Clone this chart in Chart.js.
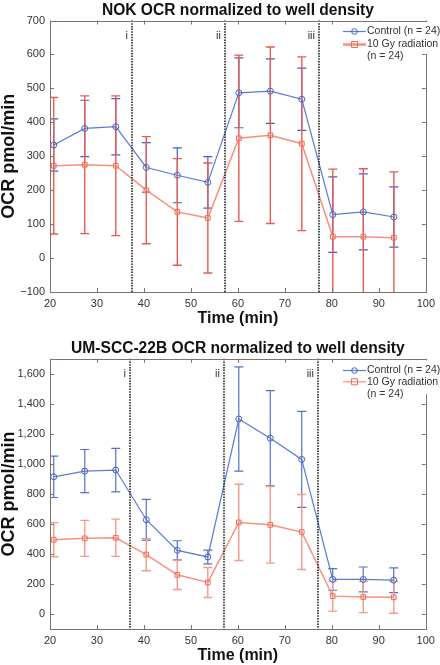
<!DOCTYPE html>
<html>
<head>
    <title>OCR normalized to well density</title>
    <script src="https://cdn.jsdelivr.net/npm/chart.js"></script>
    <style>
        body { margin: 0; background: #fff; }
        canvas { position: absolute; left: 0; }
        #nokChart { top: 0; }
        #umChart { top: 328px; }
    </style>
</head>
<body>
    <canvas id="nokChart" width="440" height="328"></canvas>
    <canvas id="umChart" width="440" height="337"></canvas>
    <script>
        // measurement times (min), same for both plates
        const times = [20.8, 27.4, 34.0, 40.5, 47.1, 53.6, 60.2, 66.9, 73.6, 80.2, 86.7, 93.2];

        // NOK
        const nokControl = [333, 382, 387, 267, 244, 223, 487, 492, 468, 128, 136, 121];
        const nokControlSd = [77, 83, 83, 73, 81, 76, 103, 95, 92, 111, 112, 89];
        const nokRadiation = [272, 275, 272, 200, 136, 118, 353, 362, 337, 63, 63, 60];
        const nokRadiationSd = [201, 203, 206, 158, 157, 162, 245, 260, 256, 199, 200, 194];
        const nokYTicks = [-100, 0, 100, 200, 300, 400, 500, 600, 700];
        const nokInjections = [37.4, 57.3, 77.2];

        // UM-SCC-22B
        const umControl = [914, 952, 959, 628, 424, 380, 1299, 1171, 1030, 230, 230, 225];
        const umControlSd = [138, 144, 145, 136, 64, 46, 347, 317, 320, 72, 83, 82];
        const umRadiation = [495, 504, 508, 396, 261, 210, 610, 594, 546, 119, 113, 111];
        const umRadiationSd = [114, 120, 124, 108, 98, 100, 254, 255, 250, 100, 104, 106];
        const umYTicks = [0, 200, 400, 600, 800, 1000, 1200, 1400, 1600];
        const umInjections = [37.0, 57.0, 77.0];

        const xTicks = [20, 30, 40, 50, 60, 70, 80, 90, 100];
        const injectionLabels = ['i', 'ii', 'iii'];
        const legendLabels = [['Control (n = 24)'], ['10 Gy radiation', '(n = 24)']];

        Chart.defaults.font.family = '"Liberation Sans", Arial, sans-serif';
        Chart.defaults.color = '#333';

        const FRAME = '#857068';

        function points(vals) {
            return times.map((t, i) => ({x: t, y: vals[i]}));
        }

        // error bars, injection lines, box frame with inward ticks, legend
        const seahorsePlugin = {
            id: 'seahorse',
            beforeDatasetsDraw(chart, args, o) {
                const ctx = chart.ctx, a = chart.chartArea;
                const xs = chart.scales.x, ys = chart.scales.y;
                ctx.save();
                ctx.beginPath();
                ctx.rect(a.left, a.top, a.right - a.left, a.bottom - a.top);
                ctx.clip();
                o.errors.forEach((sd, d) => {
                    const vals = chart.data.datasets[d].data;
                    ctx.strokeStyle = o.errColors[d];
                    ctx.lineWidth = o.errWidth[d];
                    vals.forEach((p, i) => {
                        const x = xs.getPixelForValue(p.x);
                        const y1 = ys.getPixelForValue(p.y + sd[i]);
                        const y2 = ys.getPixelForValue(p.y - sd[i]);
                        ctx.beginPath();
                        ctx.moveTo(x, y1); ctx.lineTo(x, y2);
                        ctx.moveTo(x - o.cap, y1); ctx.lineTo(x + o.cap, y1);
                        ctx.moveTo(x - o.cap, y2); ctx.lineTo(x + o.cap, y2);
                        ctx.stroke();
                    });
                });
                ctx.restore();
            },
            afterDatasetsDraw(chart, args, o) {
                const ctx = chart.ctx, a = chart.chartArea;
                const xs = chart.scales.x, ys = chart.scales.y;
                ctx.save();
                // injection lines
                ctx.strokeStyle = '#222';
                ctx.lineWidth = 1.6;
                ctx.setLineDash([1.5, 1.2]);
                ctx.font = '11px "Liberation Sans", Arial, sans-serif';
                ctx.fillStyle = '#333';
                ctx.textAlign = 'right';
                ctx.textBaseline = 'middle';
                o.injections.forEach((v, i) => {
                    const x = Math.round(xs.getPixelForValue(v));
                    ctx.beginPath();
                    ctx.moveTo(x, a.top); ctx.lineTo(x, a.bottom);
                    ctx.stroke();
                    ctx.fillText(injectionLabels[i], x - 4, a.top + 15);
                });
                ctx.setLineDash([]);
                // frame
                ctx.strokeStyle = FRAME;
                ctx.lineWidth = 1;
                ctx.strokeRect(Math.round(a.left) + 0.5, Math.round(a.top) + 0.5,
                    Math.round(a.right - a.left), Math.round(a.bottom - a.top));
                ctx.beginPath();
                xs.ticks.forEach(t => {
                    const x = Math.round(xs.getPixelForValue(t.value)) + 0.5;
                    ctx.moveTo(x, a.bottom); ctx.lineTo(x, a.bottom - 4);
                    ctx.moveTo(x, a.top); ctx.lineTo(x, a.top + 4);
                });
                ys.ticks.forEach(t => {
                    const y = Math.round(ys.getPixelForValue(t.value)) + 0.5;
                    ctx.moveTo(a.left, y); ctx.lineTo(a.left + 4, y);
                    ctx.moveTo(a.right, y); ctx.lineTo(a.right - 4, y);
                });
                ctx.stroke();
                // legend
                const lx = o.legendX;
                ctx.fillStyle = '#fff';
                ctx.fillRect(lx - 4, a.top + 1.5, chart.width - lx + 4, o.legendBox);
                ctx.font = '10.5px "Liberation Sans", Arial, sans-serif';
                ctx.textAlign = 'left';
                legendLabels.forEach((lines, d) => {
                    const ds = chart.data.datasets[d];
                    const y = a.top + o.legendRows[d];
                    ctx.strokeStyle = ds.borderColor;
                    ctx.lineWidth = o.legendLine[d];
                    ctx.beginPath();
                    ctx.moveTo(lx, y); ctx.lineTo(lx + 23, y);
                    ctx.stroke();
                    ctx.strokeStyle = ds.pointBorderColor;
                    ctx.lineWidth = 1;
                    ctx.beginPath();
                    if (ds.pointStyle === 'rect') {
                        ctx.rect(lx + 8.5, y - 3, 6, 6);
                    } else {
                        ctx.arc(lx + 11.5, y, 2.8, 0, Math.PI * 2);
                    }
                    ctx.stroke();
                    ctx.fillStyle = '#333';
                    lines.forEach((txt, k) => ctx.fillText(txt, lx + 24, y + k * 12));
                });
                ctx.restore();
            }
        };

        function makeChart(id, cfg) {
            return new Chart(document.getElementById(id), {
                type: 'line',
                data: {
                    datasets: [{
                        label: 'Control (n = 24)',
                        data: points(cfg.control),
                        borderColor: '#5a7bd2',
                        borderWidth: 1.2,
                        pointStyle: 'circle',
                        pointRadius: 3,
                        pointBorderColor: '#4563c2',
                        pointBorderWidth: 1,
                        pointBackgroundColor: 'rgba(0,0,0,0)'
                    }, {
                        label: '10 Gy radiation (n = 24)',
                        data: points(cfg.radiation),
                        borderColor: '#f7907e',
                        borderWidth: 1.5,
                        pointStyle: 'rect',
                        pointRadius: 3.3,
                        pointBorderColor: '#f06a58',
                        pointBorderWidth: 1,
                        pointBackgroundColor: 'rgba(0,0,0,0)'
                    }]
                },
                options: {
                    responsive: false,
                    animation: false,
                    devicePixelRatio: 1,
                    layout: {padding: {left: 0, right: cfg.padRight, top: 0, bottom: 0}},
                    scales: {
                        x: {
                            type: 'linear',
                            min: 20, max: 100,
                            afterBuildTicks: s => { s.ticks = xTicks.map(v => ({value: v})); },
                            afterFit: s => { s.height = 36; },
                            grid: {display: false, drawTicks: false},
                            border: {display: false},
                            ticks: {font: {size: 11}, padding: 5, color: '#333'},
                            title: {display: true, text: 'Time (min)', color: '#111',
                                font: {size: 16, weight: 'bold'}, padding: 0}
                        },
                        y: {
                            min: cfg.yMin, max: cfg.yMax,
                            afterBuildTicks: s => { s.ticks = cfg.yTicks.map(v => ({value: v})); },
                            afterFit: s => { s.width = 50; },
                            grid: {display: false, drawTicks: false},
                            border: {display: false},
                            ticks: {
                                font: {size: 11}, padding: 5, color: '#333',
                                callback: v => (v < 0 ? '\u2212' : '') + Math.abs(v).toLocaleString('en-US')
                            },
                            title: {display: true, text: 'OCR pmol/min', color: '#111',
                                font: {size: 18, weight: 'bold', lineHeight: 1}, padding: 0}
                        }
                    },
                    plugins: {
                        legend: {display: false},
                        tooltip: {enabled: false},
                        title: {
                            display: true, text: cfg.title, fullSize: false, color: '#111',
                            font: {size: 15.6, weight: 'bold'}, padding: cfg.titlePad
                        },
                        seahorse: {
                            errors: [cfg.controlSd, cfg.radiationSd],
                            errColors: cfg.errColors,
                            errWidth: [1.2, 1.4],
                            cap: 4.5,
                            injections: cfg.injections,
                            legendX: 343,
                            legendRows: cfg.legendRows,
                            legendBox: cfg.legendBox,
                            legendLine: cfg.legendLine
                        }
                    }
                },
                plugins: [seahorsePlugin]
            });
        }

        makeChart('nokChart', {
            title: 'NOK OCR normalized to well density',
            titlePad: {top: 1, bottom: 0.8},
            padRight: 12,
            control: nokControl, controlSd: nokControlSd,
            radiation: nokRadiation, radiationSd: nokRadiationSd,
            yMin: -100, yMax: 700, yTicks: nokYTicks,
            injections: nokInjections,
            errColors: ['#4060c0', '#ea5a50'],
            legendRows: [11, 24],
            legendBox: 32,
            legendLine: [1.2, 2.5]
        });

        makeChart('umChart', {
            title: 'UM-SCC-22B OCR normalized to well density',
            titlePad: {top: 11, bottom: 1.1},
            padRight: 14.3,
            control: umControl, controlSd: umControlSd,
            radiation: umRadiation, radiationSd: umRadiationSd,
            yMin: -100, yMax: 1700, yTicks: umYTicks,
            injections: umInjections,
            errColors: ['#5072cc', '#f59a88'],
            legendRows: [11.7, 23],
            legendBox: 34,
            legendLine: [1.2, 1.2]
        });
    </script>
</body>
</html>
